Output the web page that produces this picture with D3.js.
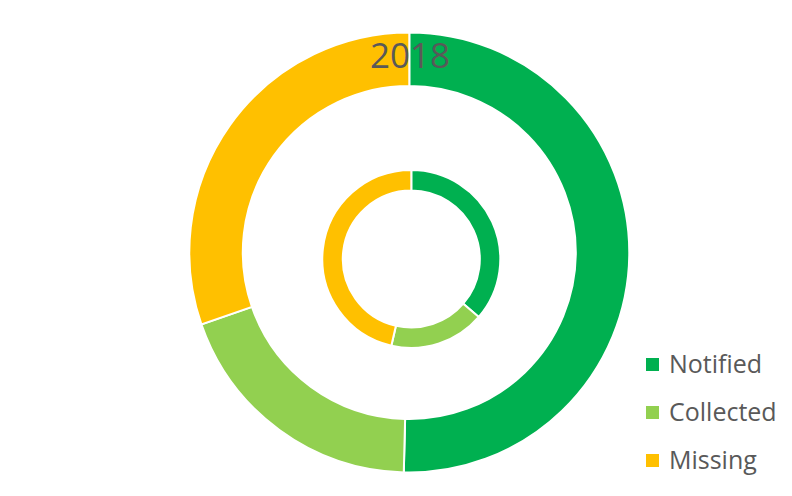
<!DOCTYPE html>
<html>
<head>
<meta charset="utf-8">
<script src="https://cdn.jsdelivr.net/npm/d3@7"></script>
<style>
  body { margin: 0; background: #fff; }
  svg { display: block; font-family: "Open Sans", "Noto Sans", sans-serif; }
</style>
</head>
<body>
<svg></svg>
<script>
// data
const categories = ["Notified", "Collected", "Missing"];
const colors = ["#00B050", "#92D050", "#FFC000"];
const outerValues = [50.4, 19.3, 30.3];
const innerValues = [36.3, 17.3, 46.4];
const title = "2018";

const width = 792, height = 496;
const svg = d3.select("svg").attr("width", width).attr("height", height);

const pie = d3.pie().sort(null).value(d => d);
const color = d3.scaleOrdinal().domain(categories).range(colors);

// ring drawing
function drawRing(values, cx, cy, r0, r1) {
    const arc = d3.arc().innerRadius(r0).outerRadius(r1);
    svg.append("g")
        .attr("transform", `translate(${cx},${cy})`)
        .selectAll("path")
        .data(pie(values))
        .enter()
        .append("path")
        .attr("d", arc)
        .attr("fill", (d, i) => color(categories[i]))
        .attr("stroke", "#fff")
        .attr("stroke-width", 2);
}

drawRing(outerValues, 409.3, 252.5, 166.5, 220);
drawRing(innerValues, 411.3, 259, 68.5, 89);

svg.append("text")
    .attr("x", 410)
    .attr("y", 68)
    .attr("text-anchor", "middle")
    .attr("font-size", 35)
    .attr("fill", "#595959")
    .text(title);

// legend
const legend = svg.selectAll(".legend")
    .data(categories)
    .enter()
    .append("g")
    .attr("class", "legend")
    .attr("transform", (d, i) => `translate(646,${358 + i * 48})`);

legend.append("rect")
    .attr("width", 13)
    .attr("height", 13)
    .attr("fill", d => color(d));

legend.append("text")
    .attr("x", 23)
    .attr("y", 15)
    .attr("font-size", 25)
    .attr("fill", "#595959")
    .text(d => d);
</script>
</body>
</html>
